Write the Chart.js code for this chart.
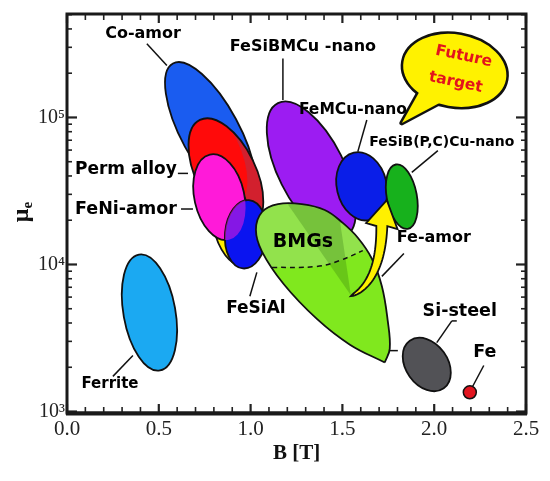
<!DOCTYPE html>
<html><head><meta charset="utf-8">
<script src="https://cdn.jsdelivr.net/npm/chart.js@4.4.1/dist/chart.umd.min.js"></script>
<style>html,body{margin:0;padding:0;background:#fff;}canvas{display:block;}</style>
</head><body>
<canvas id="c" width="550" height="481"></canvas>
<script>
// ---------------- data ----------------
const xTicks = [0, 0.5, 1.0, 1.5, 2.0, 2.5];
const yTicks = [1e3, 1e4, 1e5];
const yTickLabels = ['10³', '10⁴', '10⁵'];

// Elliptic material regions: major axis from (B1, mu1) to (B2, mu2), half width in B [T]
const regionNames = ['Ferrite', 'Co-amor', 'Perm alloy', 'unlabelled (yellow)', 'FeNi-amor', 'FeSiAl',
                     'FeSiBMCu-nano', 'FeMCu-nano', 'FeSiB(P,C)Cu-nano', 'Si-steel'];
const regionB1  = [0.392, 0.577, 0.724, 0.855, 0.778, 0.991, 1.149, 1.562, 1.791, 1.867];
const regionMu1 = [11680, 232800, 96200, 36230, 55910, 27400, 125200, 57680, 47870, 3030];
const regionB2  = [0.506, 0.985, 1.007, 0.953, 0.882, 0.958, 1.513, 1.649, 1.856, 2.052];
const regionMu2 = [1903, 26560, 18030, 10000, 14740, 9399, 15440, 20090, 17480, 1440];
const regionHalfWidthB = [0.1415, 0.158, 0.163, 0.109, 0.136, 0.114, 0.180, 0.136, 0.082, 0.114];

// Fe-amor (light green) region outline, BMGs part above the dashed line
const feAmorB  = [1.731, 1.541, 1.361, 1.181, 1.062, 1.029, 1.062, 1.149, 1.279, 1.404, 1.502, 1.584, 1.660, 1.715, 1.747, 1.758];
const feAmorMu = [2154, 2848, 4262, 7333, 12230, 17210, 22750, 25750, 25750, 23470, 19180, 15200, 10980, 7110, 4132, 2677];
const bmgDashB  = [1.116, 1.361, 1.486, 1.611];
const bmgDashMu = [9546, 9694, 10640, 12430];
const shadeB  = [1.187, 1.481, 1.546];
const shadeMu = [27400, 22050, 6183];

// Pure iron
const feB  = [2.194];
const feMu = [1352];

// Development arrow (tail -> head) and "Future target" bubble
const arrowB  = [1.546, 1.742];
const arrowMu = [6088, 27400];
const bubbleB = 2.112, bubbleMu = 208900;
const bubbleTailB = 1.824, bubbleTailMu = 91840;

// Labels (anchor in data units)
const labelText = ['Co-amor', 'FeSiBMCu -nano', 'FeMCu-nano', 'FeSiB(P,C)Cu-nano', 'Perm alloy', 'FeNi-amor',
                   'BMGs', 'Fe-amor', 'FeSiAl', 'Si-steel', 'Fe', 'Ferrite'];
const labelB  = [0.414, 1.285, 1.557, 2.041, 0.321, 0.321, 1.285, 1.998, 1.029, 2.139, 2.275, 0.234];
const labelMu = [370700, 303000, 112300, 67330, 44310, 23840, 14290, 15200, 4977, 4826, 2516, 1532];
// Leader lines
const leaderB1  = [0.435, 1.176, 1.633, 2.020, 0.604, 0.621, 1.835, 1.034, 2.014, 2.096, 2.270, 0.359, 1.758];
const leaderMu1 = [317600, 251600, 96200, 59480, 41640, 23840, 11860, 8834, 2939, 4132, 2056, 2402, 2595];
const leaderB2  = [0.544, 1.176, 1.584, 1.878, 0.659, 0.686, 1.715, 0.996, 2.096, 2.123, 2.210, 0.250, 1.802];
const leaderMu2 = [225700, 131200, 58580, 42300, 41640, 23840, 8303, 6088, 4132, 4132, 1485, 1734, 2595];

// ---------------- styles ----------------
const regionColors = ['#1ba9f2', '#1a5cf0', '#ff0a0a', '#ffee00', '#ff1ad9', '#0a14f0',
                      '#9c1cf2', '#0a1ee8', '#17b11c', '#525256'];
const labelSize = [16, 16, 15.5, 14, 17, 17.5, 19, 16, 17, 17.5, 17.5, 15];
const OUT = '#111';

function ellPath(chart, i, dx, dy) {
  const xs = chart.scales.x, ys = chart.scales.y;
  const x1 = xs.getPixelForValue(regionB1[i]), y1 = ys.getPixelForValue(regionMu1[i]);
  const x2 = xs.getPixelForValue(regionB2[i]), y2 = ys.getPixelForValue(regionMu2[i]);
  const b = xs.getPixelForValue(regionHalfWidthB[i]) - xs.getPixelForValue(0);
  const p = new Path2D();
  p.ellipse((x1 + x2) / 2 + (dx || 0), (y1 + y2) / 2 + (dy || 0), Math.hypot(x2 - x1, y2 - y1) / 2, b,
            Math.atan2(y2 - y1, x2 - x1), 0, Math.PI * 2);
  return p;
}
function fillStroke(ctx, p, color) {
  ctx.fillStyle = color; ctx.fill(p);
  ctx.lineWidth = 1.8; ctx.strokeStyle = OUT; ctx.stroke(p);
}
function region(ctx, chart, i) { fillStroke(ctx, ellPath(chart, i), regionColors[i]); }

function drawArrow(ctx, chart) {
  const xs = chart.scales.x, ys = chart.scales.y;
  const tx = xs.getPixelForValue(arrowB[0]), ty = ys.getPixelForValue(arrowMu[0]);
  const hx = xs.getPixelForValue(arrowB[1]), hy = ys.getPixelForValue(arrowMu[1]);
  const headLen = 26, headHalf = 16;
  const bx = hx - 5, by = hy + headLen;
  const cx = bx - 1, cy = ty - 14;
  const N = 30, L = [], R = [];
  for (let k = 0; k <= N; k++) {
    const t = k / N, mt = 1 - t;
    const px = mt * mt * tx + 2 * mt * t * cx + t * t * bx;
    const py = mt * mt * ty + 2 * mt * t * cy + t * t * by;
    const dx = 2 * mt * (cx - tx) + 2 * t * (bx - cx);
    const dy = 2 * mt * (cy - ty) + 2 * t * (by - cy);
    const len = Math.hypot(dx, dy);
    const nx = -dy / len, ny = dx / len;
    const w = 5.5 * Math.pow(t, 0.55);
    L.push([px + nx * w, py + ny * w]); R.push([px - nx * w, py - ny * w]);
  }
  const hdx = hx - bx, hdy = hy - by, hl = Math.hypot(hdx, hdy);
  const hnx = -hdy / hl, hny = hdx / hl;
  ctx.beginPath();
  ctx.moveTo(L[0][0], L[0][1]);
  L.forEach(p => ctx.lineTo(p[0], p[1]));
  ctx.lineTo(bx + hnx * headHalf, by + hny * headHalf);
  ctx.lineTo(hx, hy);
  ctx.lineTo(bx - hnx * headHalf, by - hny * headHalf);
  for (let k = R.length - 1; k >= 0; k--) ctx.lineTo(R[k][0], R[k][1]);
  ctx.closePath();
  ctx.fillStyle = '#fff000'; ctx.fill();
  ctx.lineWidth = 1.8; ctx.lineJoin = 'miter'; ctx.strokeStyle = OUT; ctx.stroke();
}

function drawBubble(ctx, chart) {
  const xs = chart.scales.x, ys = chart.scales.y;
  const bx = xs.getPixelForValue(bubbleB), by = ys.getPixelForValue(bubbleMu);
  const tipX = xs.getPixelForValue(bubbleTailB), tipY = ys.getPixelForValue(bubbleTailMu);
  const ell = new Path2D(); ell.ellipse(bx, by, 52, 36, 10 * Math.PI / 180, 0, Math.PI * 2);
  const tail = new Path2D(); tail.moveTo(bx - 33, by + 17); tail.lineTo(tipX, tipY); tail.lineTo(bx - 5, by + 27); tail.closePath();
  ctx.lineWidth = 5; ctx.strokeStyle = OUT; ctx.lineJoin = 'round';
  ctx.stroke(ell); ctx.stroke(tail);
  ctx.fillStyle = '#fff200'; ctx.fill(ell); ctx.fill(tail);
  ctx.fillStyle = '#e3141c';
  ctx.font = 'bold 15.5px "DejaVu Sans"'; ctx.textAlign = 'center'; ctx.textBaseline = 'middle';
  [['Future', 9, -14], ['target', 1, 12]].forEach(([s, dx, dy]) => {
    ctx.save(); ctx.translate(bx + dx, by + dy); ctx.rotate(12 * Math.PI / 180);
    ctx.fillText(s, 0, 0); ctx.restore();
  });
}

const materialsPlugin = {
  id: 'materials',
  beforeDatasetsDraw(chart) {
    const ctx = chart.ctx;
    ctx.save();
    region(ctx, chart, 0);            // Ferrite
    region(ctx, chart, 1);            // Co-amor
    // Perm alloy with darker rim
    const perm = ellPath(chart, 2);
    ctx.fillStyle = '#d2202e'; ctx.fill(perm);
    ctx.save(); ctx.clip(perm);
    ctx.fillStyle = regionColors[2]; ctx.fill(ellPath(chart, 2, -16, -20));
    ctx.restore();
    ctx.lineWidth = 1.8; ctx.strokeStyle = OUT; ctx.stroke(perm);
    region(ctx, chart, 3);            // yellow
    region(ctx, chart, 4);            // FeNi-amor
    region(ctx, chart, 5);            // FeSiAl
    ctx.save(); ctx.clip(ellPath(chart, 5));
    ctx.fillStyle = 'rgba(255,26,217,0.5)'; ctx.fill(ellPath(chart, 4));
    ctx.restore();
    region(ctx, chart, 6);            // FeSiBMCu-nano
    ctx.restore();
  },
  beforeDatasetDraw(chart, args) {
    if (args.index !== 0) return;
    const ctx = chart.ctx, line = args.meta.dataset;
    const xs = chart.scales.x, ys = chart.scales.y;
    ctx.save();
    ctx.beginPath(); line.path(ctx); ctx.closePath();
    ctx.fillStyle = '#80e81e'; ctx.fill();
    ctx.clip();
    const dm = chart.getDatasetMeta(1), pts = dm.data;
    const f = pts[0], l = pts[pts.length - 1], top = chart.chartArea.top;
    ctx.beginPath(); dm.dataset.path(ctx);
    ctx.lineTo(l.x + 80, l.y); ctx.lineTo(l.x + 80, top); ctx.lineTo(f.x - 80, top); ctx.lineTo(f.x - 80, f.y); ctx.closePath();
    ctx.fillStyle = '#92e24c'; ctx.fill();
    ctx.beginPath();
    shadeB.forEach((b, i) => {
      const px = xs.getPixelForValue(b), py = ys.getPixelForValue(shadeMu[i]);
      i ? ctx.lineTo(px, py) : ctx.moveTo(px, py);
    });
    ctx.closePath(); ctx.fillStyle = 'rgba(30,90,10,0.24)'; ctx.fill();
    ctx.restore();
  },
  afterDatasetsDraw(chart) {
    const ctx = chart.ctx, xs = chart.scales.x, ys = chart.scales.y;
    ctx.save();
    region(ctx, chart, 7);            // FeMCu-nano
    region(ctx, chart, 8);            // FeSiB(P,C)Cu-nano
    drawArrow(ctx, chart);
    region(ctx, chart, 9);            // Si-steel
    drawBubble(ctx, chart);
    // leaders
    ctx.strokeStyle = OUT; ctx.lineWidth = 1.5; ctx.lineCap = 'butt';
    leaderB1.forEach((b, i) => {
      ctx.beginPath();
      ctx.moveTo(xs.getPixelForValue(b), ys.getPixelForValue(leaderMu1[i]));
      ctx.lineTo(xs.getPixelForValue(leaderB2[i]), ys.getPixelForValue(leaderMu2[i]));
      ctx.stroke();
    });
    // labels
    ctx.fillStyle = '#000'; ctx.textAlign = 'center'; ctx.textBaseline = 'middle';
    labelText.forEach((t, i) => {
      ctx.font = 'bold ' + labelSize[i] + 'px "DejaVu Sans"';
      ctx.fillText(t, xs.getPixelForValue(labelB[i]), ys.getPixelForValue(labelMu[i]));
    });
    ctx.restore();
  },
  afterDraw(chart) {
    const { ctx, chartArea: a, scales: { x, y } } = chart;
    ctx.save();
    ctx.strokeStyle = '#222';
    const seg = (x1, y1, x2, y2) => { ctx.beginPath(); ctx.moveTo(x1, y1); ctx.lineTo(x2, y2); ctx.stroke(); };
    for (let i = 0; i <= 25; i++) {
      const px = x.getPixelForValue(i / 10), major = i % 5 === 0, len = major ? 9 : 6;
      ctx.lineWidth = major ? 2.2 : 1.6;
      seg(px, a.bottom, px, a.bottom - len); seg(px, a.top, px, a.top + len);
    }
    for (let d = 2; d <= 5; d++) for (let m = 1; m <= 9; m++) {
      const v = m * Math.pow(10, d);
      if (v < y.min || v > y.max) continue;
      const py = y.getPixelForValue(v), len = m === 1 ? 10 : 5;
      ctx.lineWidth = m === 1 ? 2.2 : 1.6;
      seg(a.left, py, a.left + len, py); seg(a.right, py, a.right - len, py);
    }
    ctx.lineWidth = 3; ctx.strokeStyle = '#1a1a1a';
    ctx.strokeRect(a.left, a.top, a.right - a.left, a.bottom - a.top);
    ctx.lineWidth = 4; seg(a.left - 1, a.bottom + 0.5, a.right + 1, a.bottom + 0.5);
    // y title  mu_e
    ctx.fillStyle = '#111';
    ctx.translate(22, 212); ctx.rotate(-Math.PI / 2);
    ctx.font = 'bold 24px "Liberation Serif", "DejaVu Serif", serif';
    const wm = ctx.measureText('μ').width;
    ctx.font = 'bold 15px "Liberation Serif", "DejaVu Serif", serif';
    const we = ctx.measureText('e').width;
    const x0 = -(wm + we) / 2;
    ctx.textAlign = 'left'; ctx.textBaseline = 'alphabetic';
    ctx.font = 'bold 24px "Liberation Serif", "DejaVu Serif", serif';
    ctx.fillText('μ', x0, 6);
    ctx.font = 'bold 15px "Liberation Serif", "DejaVu Serif", serif';
    ctx.fillText('e', x0 + wm, 10);
    ctx.restore();
  }
};

const feAmorData = feAmorB.map((b, i) => ({ x: b, y: feAmorMu[i] }));
feAmorData.push({ x: feAmorB[0], y: feAmorMu[0] });

new Chart(document.getElementById('c'), {
  type: 'scatter',
  data: {
    datasets: [
      { label: 'Fe-amor / BMGs', data: feAmorData, showLine: true, fill: false, tension: 0.4,
        borderColor: OUT, borderWidth: 1.8, pointRadius: 0, order: 2 },
      { label: 'BMGs boundary', data: bmgDashB.map((b, i) => ({ x: b, y: bmgDashMu[i] })), showLine: true,
        fill: false, tension: 0.4, borderColor: '#111', borderWidth: 1.5, borderDash: [5, 4], pointRadius: 0, order: 1 },
      { label: 'Fe', data: feB.map((b, i) => ({ x: b, y: feMu[i] })), pointRadius: 6.5,
        backgroundColor: '#e2151f', borderColor: OUT, borderWidth: 1.5, order: 0 }
    ]
  },
  options: {
    responsive: false, animation: false, devicePixelRatio: 1,
    layout: { padding: { top: 10, right: 24, left: 0, bottom: 0 } },
    plugins: { legend: { display: false }, tooltip: { enabled: false } },
    scales: {
      x: {
        type: 'linear', min: 0, max: 2.5, position: 'bottom',
        afterFit: s => { s.height = 68; },
        afterBuildTicks: s => { s.ticks = xTicks.map(v => ({ value: v })); },
        grid: { display: false, drawTicks: false }, border: { display: false },
        ticks: { padding: 4, autoSkip: false, maxRotation: 0, color: '#222',
                 font: { family: '"Liberation Serif", serif', size: 21 },
                 callback: v => Number(v).toFixed(1) },
        title: { display: true, text: 'B [T]', color: '#111',
                 font: { family: '"Liberation Serif", serif', size: 21, weight: 'bold' },
                 padding: { top: 0, bottom: 15 } }
      },
      y: {
        type: 'logarithmic', min: 977, max: 505400, position: 'left',
        afterFit: s => { s.width = 67; },
        afterBuildTicks: s => { s.ticks = yTicks.map(v => ({ value: v })); },
        grid: { display: false, drawTicks: false }, border: { display: false },
        ticks: { padding: 2, autoSkip: false, color: '#222',
                 font: { family: '"Liberation Serif", "DejaVu Serif", serif', size: 20 },
                 callback: v => { const i = yTicks.indexOf(Number(v)); return i >= 0 ? yTickLabels[i] : ''; } }
      }
    }
  },
  plugins: [materialsPlugin]
});
</script>
</body></html>
